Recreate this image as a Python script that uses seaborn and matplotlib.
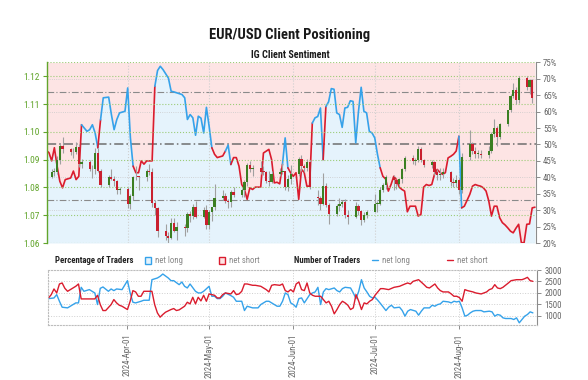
import numpy as np
import pandas as pd
import matplotlib
matplotlib.use('Agg')
import matplotlib.pyplot as plt
import matplotlib.dates as mdates
from matplotlib import font_manager
from matplotlib.patches import Rectangle
from matplotlib.lines import Line2D
import seaborn as sns

sns.set_style('white')
names = {f.name for f in font_manager.fontManager.ttflist}
narrow = next((n for n in ['Roboto Condensed', 'Liberation Sans Narrow', 'Open Sans Condensed', 'Lato']
               if n in names), 'DejaVu Sans')
plt.rcParams['font.family'] = [narrow, 'DejaVu Sans']

# ---- data ----
base = pd.Timestamp('2024-03-04')

# daily EUR/USD candles, Mon 2024-03-04 .. Wed 2024-08-28 (one week per row)
candle_dates = pd.bdate_range('2024-03-04', '2024-08-28')
open_px = [
    1.0838, 1.0855, 1.0856, 1.0898, 1.0948,
    1.0938, 1.0926, 1.0927, 1.0947, 1.0883,
    1.0890, 1.0868, 1.0865, 1.0922, 1.0860,
    1.0808, 1.0838, 1.0831, 1.0824, 1.0790,
    1.0793, 1.0742, 1.0770, 1.0836, 1.0838,
    1.0837, 1.0860, 1.0857, 1.0743, 1.0725,
    1.0642, 1.0624, 1.0618, 1.0672, 1.0643,
    1.0656, 1.0655, 1.0703, 1.0697, 1.0729,
    1.0693, 1.0718, 1.0665, 1.0713, 1.0728,
    1.0761, 1.0770, 1.0752, 1.0748, 1.0783,
    1.0771, 1.0789, 1.0818, 1.0882, 1.0867,
    1.0871, 1.0857, 1.0855, 1.0822, 1.0820,
    1.0847, 1.0857, 1.0858, 1.0800, 1.0832,
    1.0848, 1.0902, 1.0877, 1.0870, 1.0890,
    1.0765, 1.0763, 1.0741, 1.0806, 1.0738,
    1.0703, 1.0733, 1.0739, 1.0749, 1.0702,
    1.0693, 1.0733, 1.0714, 1.0681, 1.0702,
    1.0713, 1.0741, 1.0742, 1.0792, 1.0810,
    1.0839, 1.0825, 1.0814, 1.0830, 1.0865,
    1.0907, 1.0895, 1.0899, 1.0937, 1.0897,
    1.0882, 1.0890, 1.0855, 1.0845, 1.0850,
    1.0856, 1.0820, 1.0815, 1.0825, 1.0790,
    1.0910, 1.0955, 1.0930, 1.0920, 1.0920,
    1.0917, 1.0932, 1.0993, 1.1012, 1.0983,
    1.1027, 1.1077, 1.1130, 1.1152, 1.1115,
    1.1192, 1.1160, 1.1185,
]
high_px = [
    1.0868, 1.0870, 1.0912, 1.0955, 1.0981,
    1.0942, 1.0940, 1.0962, 1.0957, 1.0903,
    1.0900, 1.0880, 1.0942, 1.0942, 1.0865,
    1.0845, 1.0865, 1.0840, 1.0828, 1.0802,
    1.0803, 1.0775, 1.0842, 1.0876, 1.0842,
    1.0865, 1.0885, 1.0870, 1.0755, 1.0730,
    1.0668, 1.0640, 1.0690, 1.0691, 1.0675,
    1.0670, 1.0713, 1.0715, 1.0740, 1.0752,
    1.0730, 1.0735, 1.0720, 1.0730, 1.0812,
    1.0790, 1.0780, 1.0760, 1.0790, 1.0800,
    1.0797, 1.0825, 1.0887, 1.0895, 1.0880,
    1.0895, 1.0878, 1.0860, 1.0860, 1.0858,
    1.0870, 1.0889, 1.0860, 1.0845, 1.0880,
    1.0910, 1.0915, 1.0885, 1.0902, 1.0900,
    1.0790, 1.0768, 1.0852, 1.0815, 1.0745,
    1.0740, 1.0762, 1.0755, 1.0760, 1.0720,
    1.0748, 1.0740, 1.0720, 1.0710, 1.0720,
    1.0776, 1.0750, 1.0800, 1.0815, 1.0845,
    1.0845, 1.0830, 1.0835, 1.0870, 1.0912,
    1.0915, 1.0905, 1.0948, 1.0945, 1.0902,
    1.0900, 1.0895, 1.0865, 1.0870, 1.0870,
    1.0860, 1.0835, 1.0845, 1.0835, 1.0925,
    1.1008, 1.0965, 1.0945, 1.0935, 1.0935,
    1.0950, 1.1000, 1.1047, 1.1020, 1.1030,
    1.1080, 1.1135, 1.1175, 1.1160, 1.1200,
    1.1202, 1.1190, 1.1190,
]
low_px = [
    1.0834, 1.0840, 1.0850, 1.0885, 1.0925,
    1.0915, 1.0905, 1.0920, 1.0873, 1.0870,
    1.0860, 1.0835, 1.0850, 1.0855, 1.0802,
    1.0800, 1.0825, 1.0805, 1.0775, 1.0775,
    1.0726, 1.0724, 1.0755, 1.0825, 1.0792,
    1.0822, 1.0845, 1.0728, 1.0700, 1.0622,
    1.0612, 1.0601, 1.0615, 1.0640, 1.0610,
    1.0624, 1.0640, 1.0675, 1.0685, 1.0690,
    1.0690, 1.0650, 1.0650, 1.0680, 1.0720,
    1.0755, 1.0745, 1.0725, 1.0730, 1.0765,
    1.0765, 1.0765, 1.0805, 1.0857, 1.0840,
    1.0850, 1.0845, 1.0815, 1.0805, 1.0815,
    1.0840, 1.0850, 1.0790, 1.0788, 1.0812,
    1.0840, 1.0860, 1.0855, 1.0860, 1.0795,
    1.0735, 1.0720, 1.0735, 1.0730, 1.0668,
    1.0698, 1.0715, 1.0730, 1.0690, 1.0670,
    1.0690, 1.0700, 1.0665, 1.0675, 1.0690,
    1.0710, 1.0710, 1.0735, 1.0785, 1.0795,
    1.0790, 1.0795, 1.0805, 1.0815, 1.0860,
    1.0885, 1.0880, 1.0890, 1.0890, 1.0875,
    1.0870, 1.0845, 1.0825, 1.0825, 1.0835,
    1.0805, 1.0802, 1.0800, 1.0775, 1.0780,
    1.0900, 1.0920, 1.0905, 1.0905, 1.0905,
    1.0905, 1.0925, 1.0980, 1.0950, 1.0975,
    1.1020, 1.1070, 1.1120, 1.1100, 1.1105,
    1.1150, 1.1135, 1.1105,
]
close_px = [
    1.0855, 1.0856, 1.0898, 1.0948, 1.0938,
    1.0926, 1.0927, 1.0947, 1.0883, 1.0890,
    1.0868, 1.0865, 1.0922, 1.0860, 1.0808,
    1.0838, 1.0831, 1.0824, 1.0790, 1.0793,
    1.0742, 1.0770, 1.0836, 1.0838, 1.0837,
    1.0860, 1.0857, 1.0743, 1.0725, 1.0642,
    1.0624, 1.0618, 1.0672, 1.0643, 1.0656,
    1.0655, 1.0703, 1.0697, 1.0729, 1.0693,
    1.0718, 1.0665, 1.0713, 1.0728, 1.0761,
    1.0770, 1.0752, 1.0748, 1.0783, 1.0771,
    1.0789, 1.0818, 1.0882, 1.0867, 1.0871,
    1.0857, 1.0855, 1.0822, 1.0820, 1.0847,
    1.0857, 1.0858, 1.0800, 1.0832, 1.0848,
    1.0902, 1.0877, 1.0870, 1.0890, 1.0801,
    1.0763, 1.0741, 1.0806, 1.0738, 1.0703,
    1.0733, 1.0739, 1.0749, 1.0702, 1.0693,
    1.0733, 1.0714, 1.0681, 1.0702, 1.0713,
    1.0741, 1.0742, 1.0792, 1.0810, 1.0839,
    1.0825, 1.0814, 1.0830, 1.0865, 1.0907,
    1.0895, 1.0899, 1.0937, 1.0897, 1.0882,
    1.0890, 1.0855, 1.0845, 1.0850, 1.0856,
    1.0820, 1.0815, 1.0825, 1.0790, 1.0910,
    1.0955, 1.0930, 1.0920, 1.0920, 1.0917,
    1.0932, 1.0993, 1.1012, 1.0983, 1.1027,
    1.1077, 1.1130, 1.1152, 1.1115, 1.1192,
    1.1160, 1.1185, 1.1120,
]

# % of traders net long: (days after 2024-03-04, percent, line colour r/b)
sentiment = [
    (-2, 48.2, 'r'), (-1, 47.5, 'r'), (0, 45.0, 'r'), (1, 49.0, 'r'), (2, 43.4, 'r'),
    (3, 38.8, 'r'), (4, 36.8, 'r'), (5, 39.3, 'r'), (7, 39.8, 'r'), (8, 41.9, 'r'),
    (9, 39.3, 'r'), (10, 40.3, 'r'), (11, 56.0, 'r'), (12, 55.0, 'b'), (13, 54.0, 'b'),
    (14, 54.5, 'b'), (15, 56.0, 'b'), (16, 53.5, 'b'), (17, 49.0, 'b'), (18, 57.5, 'r'),
    (19, 64.2, 'b'), (21, 64.4, 'b'), (22, 59.1, 'b'), (23, 54.5, 'b'), (24, 57.6, 'b'),
    (25, 59.6, 'b'), (27, 60.1, 'b'), (28, 67.2, 'b'), (29, 52.0, 'b'), (30, 43.4, 'b'),
    (31, 41.4, 'r'), (32, 41.4, 'r'), (33, 45.0, 'r'), (34, 44.0, 'r'), (35, 45.0, 'r'),
    (37, 45.0, 'r'), (38, 67.7, 'r'), (39, 72.5, 'b'), (40, 73.8, 'b'), (41, 72.8, 'b'),
    (42, 71.5, 'b'), (43, 70.2, 'b'), (44, 66.2, 'b'), (45, 66.0, 'b'), (48, 65.2, 'b'),
    (49, 64.2, 'b'), (50, 57.6, 'b'), (51, 59.1, 'b'), (52, 58.1, 'b'), (53, 52.8, 'b'),
    (54, 58.6, 'b'), (55, 58.0, 'b'), (56, 53.5, 'b'), (57, 61.3, 'b'), (58, 55.5, 'b'),
    (59, 49.0, 'b'), (60, 47.0, 'r'), (61, 46.0, 'r'), (63, 46.5, 'r'), (64, 48.0, 'r'),
    (65, 49.8, 'b'), (66, 43.9, 'b'), (67, 46.0, 'r'), (68, 46.0, 'r'), (69, 43.4, 'r'),
    (70, 37.8, 'r'), (71, 36.3, 'r'), (72, 33.3, 'r'), (73, 36.8, 'r'), (74, 36.3, 'r'),
    (75, 37.0, 'r'), (77, 37.0, 'r'), (78, 47.4, 'r'), (80, 48.5, 'r'), (81, 45.4, 'r'),
    (82, 38.3, 'r'), (83, 38.5, 'r'), (84, 38.0, 'r'), (85, 43.9, 'r'), (86, 52.0, 'b'),
    (87, 42.9, 'b'), (88, 41.4, 'r'), (89, 40.3, 'r'), (90, 41.4, 'r'), (91, 33.3, 'r'),
    (92, 42.4, 'r'), (93, 41.5, 'r'), (94, 37.3, 'r'), (95, 37.3, 'r'), (96, 56.5, 'r'),
    (97, 58.1, 'b'), (98, 58.5, 'b'), (99, 61.1, 'b'), (100, 45.4, 'b'), (101, 61.5, 'r'),
    (102, 63.0, 'b'), (103, 67.0, 'b'), (104, 66.8, 'b'), (105, 59.6, 'b'), (106, 59.1, 'b'),
    (107, 55.2, 'b'), (108, 61.1, 'b'), (109, 61.3, 'b'), (110, 63.3, 'b'), (111, 63.1, 'b'),
    (112, 50.5, 'b'), (113, 60.0, 'b'), (114, 67.4, 'b'), (115, 60.1, 'b'), (116, 59.6, 'b'),
    (117, 54.0, 'b'), (118, 53.5, 'b'), (119, 52.0, 'b'), (120, 47.0, 'b'), (121, 42.9, 'b'),
    (122, 40.3, 'r'), (123, 39.5, 'r'), (124, 35.8, 'r'), (125, 37.8, 'r'), (126, 40.3, 'r'),
    (127, 39.3, 'r'), (128, 37.0, 'r'), (129, 36.3, 'r'), (130, 35.8, 'r'), (131, 29.5, 'r'),
    (132, 31.2, 'r'), (134, 31.2, 'r'), (135, 28.2, 'r'), (136, 28.7, 'r'), (137, 37.0, 'r'),
    (138, 37.8, 'r'), (139, 37.5, 'r'), (140, 37.8, 'r'), (141, 40.9, 'r'), (142, 42.4, 'r'),
    (143, 41.5, 'r'), (144, 40.9, 'r'), (145, 41.4, 'r'), (146, 45.9, 'r'), (147, 46.4, 'r'),
    (148, 47.0, 'r'), (149, 48.0, 'r'), (150, 52.5, 'r'), (151, 30.7, 'b'), (152, 31.2, 'r'),
    (153, 33.0, 'r'), (154, 34.8, 'r'), (155, 37.3, 'r'), (156, 37.8, 'r'), (157, 37.5, 'r'),
    (158, 37.3, 'r'), (159, 36.8, 'r'), (160, 35.8, 'r'), (161, 32.8, 'r'), (162, 28.2, 'r'),
    (163, 31.2, 'r'), (164, 31.2, 'r'), (165, 27.7, 'r'), (166, 26.2, 'r'), (167, 25.5, 'r'),
    (168, 24.6, 'r'), (169, 23.6, 'r'), (170, 23.1, 'r'), (171, 24.5, 'r'), (172, 25.7, 'r'),
    (173, 20.1, 'r'), (174, 20.1, 'r'), (175, 25.7, 'r'), (176, 25.8, 'r'), (177, 30.7, 'r'),
    (178, 30.9, 'r'),
]

# number of traders: (days after 2024-03-04, count)
traders_long = [
    (-1, 1753), (1, 1780), (2, 1927), (3, 1637), (4, 1377), (6, 1348), (8, 1493), (9, 1565),
    (10, 1565), (11, 2246), (12, 2072), (14, 2145), (16, 2000), (17, 1493), (18, 2200),
    (19, 2261), (21, 2072), (22, 2174), (23, 2101), (24, 2174), (26, 2145), (28, 2536),
    (29, 2000), (30, 1594), (31, 1565), (33, 1637), (34, 1681), (36, 1681), (37, 2579),
    (39, 2652), (40, 2724), (41, 2826), (43, 2652), (44, 2536), (45, 2536), (47, 2362),
    (48, 2478), (49, 2290), (50, 2217), (51, 2391), (53, 2072), (54, 2000), (55, 2000),
    (56, 2072), (58, 2290), (59, 1855), (60, 1855), (61, 1753), (62, 1753), (63, 1855),
    (64, 2000), (66, 1884), (67, 1811), (68, 1637), (70, 1637), (71, 1232), (72, 1420),
    (74, 1348), (76, 1348), (77, 1493), (79, 1637), (80, 1637), (82, 1493), (83, 1420),
    (84, 1420), (85, 1637), (86, 2000), (87, 1927), (88, 1565), (89, 1493), (90, 1377),
    (91, 1753), (92, 1782), (93, 1565), (95, 1927), (96, 2000), (97, 2044), (98, 2246),
    (99, 1493), (100, 2044), (101, 2188), (102, 2145), (104, 2217), (105, 2101), (106, 2044),
    (107, 2188), (108, 2246), (110, 2217), (111, 2000), (112, 1753), (113, 2072), (114, 2579),
    (115, 2217), (116, 2044), (117, 1855), (118, 1782), (119, 1811), (120, 1681), (121, 1537),
    (123, 1232), (124, 1377), (125, 1464), (126, 1348), (128, 1377), (129, 1232), (130, 986),
    (131, 1203), (132, 1275), (134, 1203), (135, 1029), (136, 1203), (137, 1348), (139, 1348),
    (140, 1464), (141, 1420), (142, 1493), (143, 1522), (144, 1637), (146, 1609), (147, 1565),
    (148, 1637), (149, 1609), (150, 1637), (151, 1348), (152, 986), (153, 1029), (154, 1130),
    (155, 1203), (156, 1232), (158, 1232), (159, 1174), (161, 1203), (162, 1174), (163, 986),
    (164, 1058), (165, 1029), (166, 913), (167, 884), (169, 884), (170, 840), (171, 913),
    (172, 696), (173, 840), (174, 986), (175, 1058), (176, 1174), (177, 1130),
]
traders_short = [
    (-1, 1782), (0, 1927), (1, 2174), (2, 2000), (3, 2391), (4, 2435), (5, 2200), (6, 2072),
    (7, 2145), (9, 2290), (10, 2391), (11, 1739), (12, 1739), (16, 1739), (17, 1900),
    (18, 1493), (19, 1232), (20, 1232), (22, 1493), (23, 1710), (24, 1565), (25, 1464),
    (26, 1420), (28, 1275), (29, 1637), (30, 2101), (31, 2044), (32, 1855), (33, 1855),
    (34, 2072), (37, 2072), (38, 1493), (39, 1130), (40, 942), (41, 1058), (42, 1160),
    (44, 1275), (45, 1319), (46, 1232), (47, 1261), (49, 1420), (50, 1594), (51, 1522),
    (52, 1811), (53, 1522), (54, 1811), (55, 1652), (56, 1898), (57, 1637), (58, 1956),
    (60, 1898), (61, 1782), (62, 1782), (63, 1927), (64, 2000), (66, 1956), (67, 2101),
    (68, 1927), (69, 1956), (70, 2072), (71, 2391), (72, 2391), (74, 2333), (75, 2333),
    (77, 2290), (79, 2145), (80, 2044), (81, 2333), (82, 2362), (84, 2333), (85, 2391),
    (86, 2101), (87, 2044), (88, 2145), (89, 2044), (90, 2391), (91, 2478), (92, 2145),
    (93, 2101), (94, 2435), (95, 2000), (96, 1898), (97, 1855), (99, 1855), (101, 1565),
    (102, 1637), (103, 1420), (104, 1087), (105, 1275), (106, 1493), (107, 1637), (108, 1565),
    (109, 1464), (110, 1275), (111, 1348), (112, 1927), (113, 1637), (114, 1275), (115, 1565),
    (116, 1522), (117, 1637), (118, 1710), (119, 1898), (121, 2188), (122, 2188), (124, 2145),
    (126, 2246), (128, 2290), (130, 2391), (131, 2435), (132, 2391), (133, 2507), (135, 2579),
    (137, 2362), (138, 2246), (139, 2217), (141, 2391), (142, 2217), (143, 2101), (144, 2044),
    (146, 2044), (147, 1956), (148, 1855), (149, 1855), (150, 1797), (151, 1637), (152, 2145),
    (153, 2101), (155, 2044), (156, 2000), (158, 1956), (160, 2044), (161, 2145), (162, 2188),
    (163, 2362), (164, 2217), (165, 2188), (166, 2246), (168, 2435), (169, 2536), (171, 2579),
    (173, 2579), (174, 2623), (175, 2681), (176, 2536), (177, 2507),
]

month_ticks = ['2024-04-01', '2024-05-01', '2024-06-01', '2024-07-01', '2024-08-01']
price_ticks = [1.06, 1.07, 1.08, 1.09, 1.10, 1.11, 1.12]
pct_ticks = list(range(20, 80, 5))
count_ticks = [1000, 1500, 2000, 2500, 3000]

# ---- colours ----
BLUE = '#35a2ea'
RED = '#da1c2e'
FILL_BLUE = '#e5f3fc'
FILL_RED = '#fde4e4'
UP = '#3b7f22'
DOWN = '#c9202f'
WICK = '#a0a0a0'
PRICE_GREEN = '#62a52c'
GRID_GREEN = '#9ccc78'
AXIS_GREY = '#8c8c8c'
TEXT_GREY = '#666666'


def to_date(d):
    return base + pd.to_timedelta(np.asarray(d, dtype=float), unit='D')


fig = plt.figure(figsize=(5.88, 3.80), dpi=100)
fig.text(0.493, 0.909, 'EUR/USD Client Positioning', ha='center', va='center',
         fontsize=10.5, fontweight='bold', color='#1a1a1a')
fig.text(0.493, 0.855, 'IG Client Sentiment', ha='center', va='center',
         fontsize=7.3, fontweight='bold', color='#1a1a1a')

# ---- top panel: sentiment (right %) + candles (left price) ----
ax = fig.add_axes([0.0791, 0.3605, 0.8325, 0.4755])
axp = ax.twinx()

s_day = [s[0] for s in sentiment]
s_pct = np.array([s[1] for s in sentiment])
s_col = [s[2] for s in sentiment]
s_x = to_date(s_day)

ax.fill_between(s_x, 20, s_pct, color=FILL_BLUE, lw=0, zorder=0.5)
ax.fill_between(s_x, s_pct, 75, color=FILL_RED, lw=0, zorder=0.5)

for lvl in [30, 40, 60, 70]:
    ax.axhline(lvl, color='#c9c9c9', ls=':', lw=0.6, zorder=1)
for lvl, w, c in [(33, 0.8, '#8a8a8a'), (50, 1.1, '#6e6e6e'), (66, 0.8, '#8a8a8a')]:
    ax.axhline(lvl, color=c, lw=w, dashes=(6, 2, 1, 2), zorder=1)
for m in month_ticks:
    ax.axvline(pd.Timestamp(m), color='#cfcfcf', ls=':', lw=0.8, zorder=1)

# sentiment line, one run per colour
cmap = {'r': RED, 'b': BLUE}
i0 = 0
for i in range(1, len(s_day)):
    if i == len(s_day) - 1 or s_col[i + 1] != s_col[i]:
        run = pd.DataFrame({'x': s_x[i0:i + 1], 'y': s_pct[i0:i + 1]})
        sns.lineplot(data=run, x='x', y='y', ax=ax, color=cmap[s_col[i]], lw=1.2,
                     sort=False, estimator=None, zorder=2)
        i0 = i

ax.set_ylim(20, 75)
ax.set_xlim(base - pd.Timedelta(days=1.9), base + pd.Timedelta(days=178.4))
ax.set_yticks(pct_ticks)
ax.set_yticklabels([f'{v}%' for v in pct_ticks])
ax.yaxis.tick_right()
ax.set_xticks([])
ax.set_xlabel('')
ax.set_ylabel('')
ax.tick_params(axis='y', right=True, left=False, length=3, width=0.7, color=AXIS_GREY,
               labelsize=6.3, labelcolor=TEXT_GREY, pad=2)
for side in ['top', 'bottom', 'left']:
    ax.spines[side].set_visible(False)
ax.spines['right'].set_color(AXIS_GREY)
ax.spines['right'].set_linewidth(0.8)

# candles
o = np.array(open_px)
h = np.array(high_px)
l = np.array(low_px)
c = np.array(close_px)
for lvl in price_ticks + [1.125]:
    axp.axhline(lvl, color=GRID_GREEN, ls=':', lw=0.8, zorder=1)
axp.vlines(candle_dates, l, h, color=WICK, lw=0.8, zorder=2)
axp.bar(candle_dates, np.maximum(np.abs(c - o), 0.00025), bottom=np.minimum(o, c),
        width=0.8, color=np.where(c >= o, UP, DOWN), lw=0, zorder=3)
axp.set_ylim(1.06, 1.125)
axp.set_yticks(price_ticks)
axp.set_yticklabels([f'{v:.2f}' for v in price_ticks])
axp.yaxis.tick_left()
axp.tick_params(axis='y', left=True, right=False, length=3, width=0.8, color=PRICE_GREEN,
                labelsize=6.8, labelcolor=PRICE_GREEN, pad=2)
for side in ['top', 'bottom', 'right']:
    axp.spines[side].set_visible(False)
axp.spines['left'].set_color(PRICE_GREEN)
axp.spines['left'].set_linewidth(1.0)
axp.set_xticks([])

# ---- legend row ----
ly = 0.315
fig.text(55 / 588, ly, 'Percentage of Traders', fontsize=6.3, fontweight='bold',
         color='#222222', va='center')
fig.patches.append(Rectangle((145 / 588, ly - 0.0085), 6 / 588, 6.5 / 380, transform=fig.transFigure,
                             facecolor=FILL_BLUE, edgecolor=BLUE, lw=1.0))
fig.text(155 / 588, ly, 'net long', fontsize=6.3, color='#888888', va='center')
fig.patches.append(Rectangle((219 / 588, ly - 0.0085), 6 / 588, 6.5 / 380, transform=fig.transFigure,
                             facecolor=FILL_RED, edgecolor=RED, lw=1.0))
fig.text(229 / 588, ly, 'net short', fontsize=6.3, color='#888888', va='center')
fig.text(294 / 588, ly, 'Number of Traders', fontsize=6.3, fontweight='bold',
         color='#222222', va='center')
fig.lines.append(Line2D([372 / 588, 378 / 588], [ly, ly], transform=fig.transFigure, color=BLUE, lw=1.0))
fig.text(382 / 588, ly, 'net long', fontsize=6.3, color='#888888', va='center')
fig.lines.append(Line2D([447 / 588, 453 / 588], [ly, ly], transform=fig.transFigure, color=RED, lw=1.0))
fig.text(457 / 588, ly, 'net short', fontsize=6.3, color='#888888', va='center')

# ---- bottom panel: number of traders ----
axb = fig.add_axes([0.0821, 0.1447, 0.832, 0.1447])
df_n = pd.concat([
    pd.DataFrame({'date': to_date([t[0] for t in traders_long]),
                  'traders': [t[1] for t in traders_long], 'side': 'net long'}),
    pd.DataFrame({'date': to_date([t[0] for t in traders_short]),
                  'traders': [t[1] for t in traders_short], 'side': 'net short'}),
])
for lvl in [1000, 1500, 2000, 2500]:
    axb.axhline(lvl, color='#cfcfcf', ls=':', lw=0.7, zorder=0)
for m in month_ticks:
    axb.axvline(pd.Timestamp(m), color='#cfcfcf', ls=':', lw=0.7, zorder=0)
sns.lineplot(data=df_n, x='date', y='traders', hue='side',
             palette={'net long': BLUE, 'net short': RED}, lw=1.0,
             estimator=None, legend=False, ax=axb)
axb.set_xlim(base - pd.Timedelta(days=1.1), base + pd.Timedelta(days=178.7))
axb.set_ylim(600, 3000)
axb.set_xlabel('')
axb.set_ylabel('')
axb.yaxis.tick_right()
axb.set_yticks(count_ticks)
axb.set_yticklabels([str(v) for v in count_ticks])
axb.set_xticks([pd.Timestamp(m) for m in month_ticks])
axb.xaxis.set_major_formatter(mdates.DateFormatter('%Y-%b-%d'))
axb.tick_params(axis='y', right=True, left=False, length=3, width=0.7, color=AXIS_GREY,
                labelsize=6.3, labelcolor=TEXT_GREY, pad=2)
axb.tick_params(axis='x', bottom=True, length=3, width=0.7, color=AXIS_GREY,
                labelsize=6.3, labelcolor=TEXT_GREY, labelrotation=90, pad=3)
for side in ['top', 'left', 'bottom']:
    axb.spines[side].set_linestyle(':')
    axb.spines[side].set_color('#bdbdbd')
    axb.spines[side].set_linewidth(0.8)
axb.spines['right'].set_color(AXIS_GREY)
axb.spines['right'].set_linewidth(0.8)

fig.savefig('out.png', dpi=100)
